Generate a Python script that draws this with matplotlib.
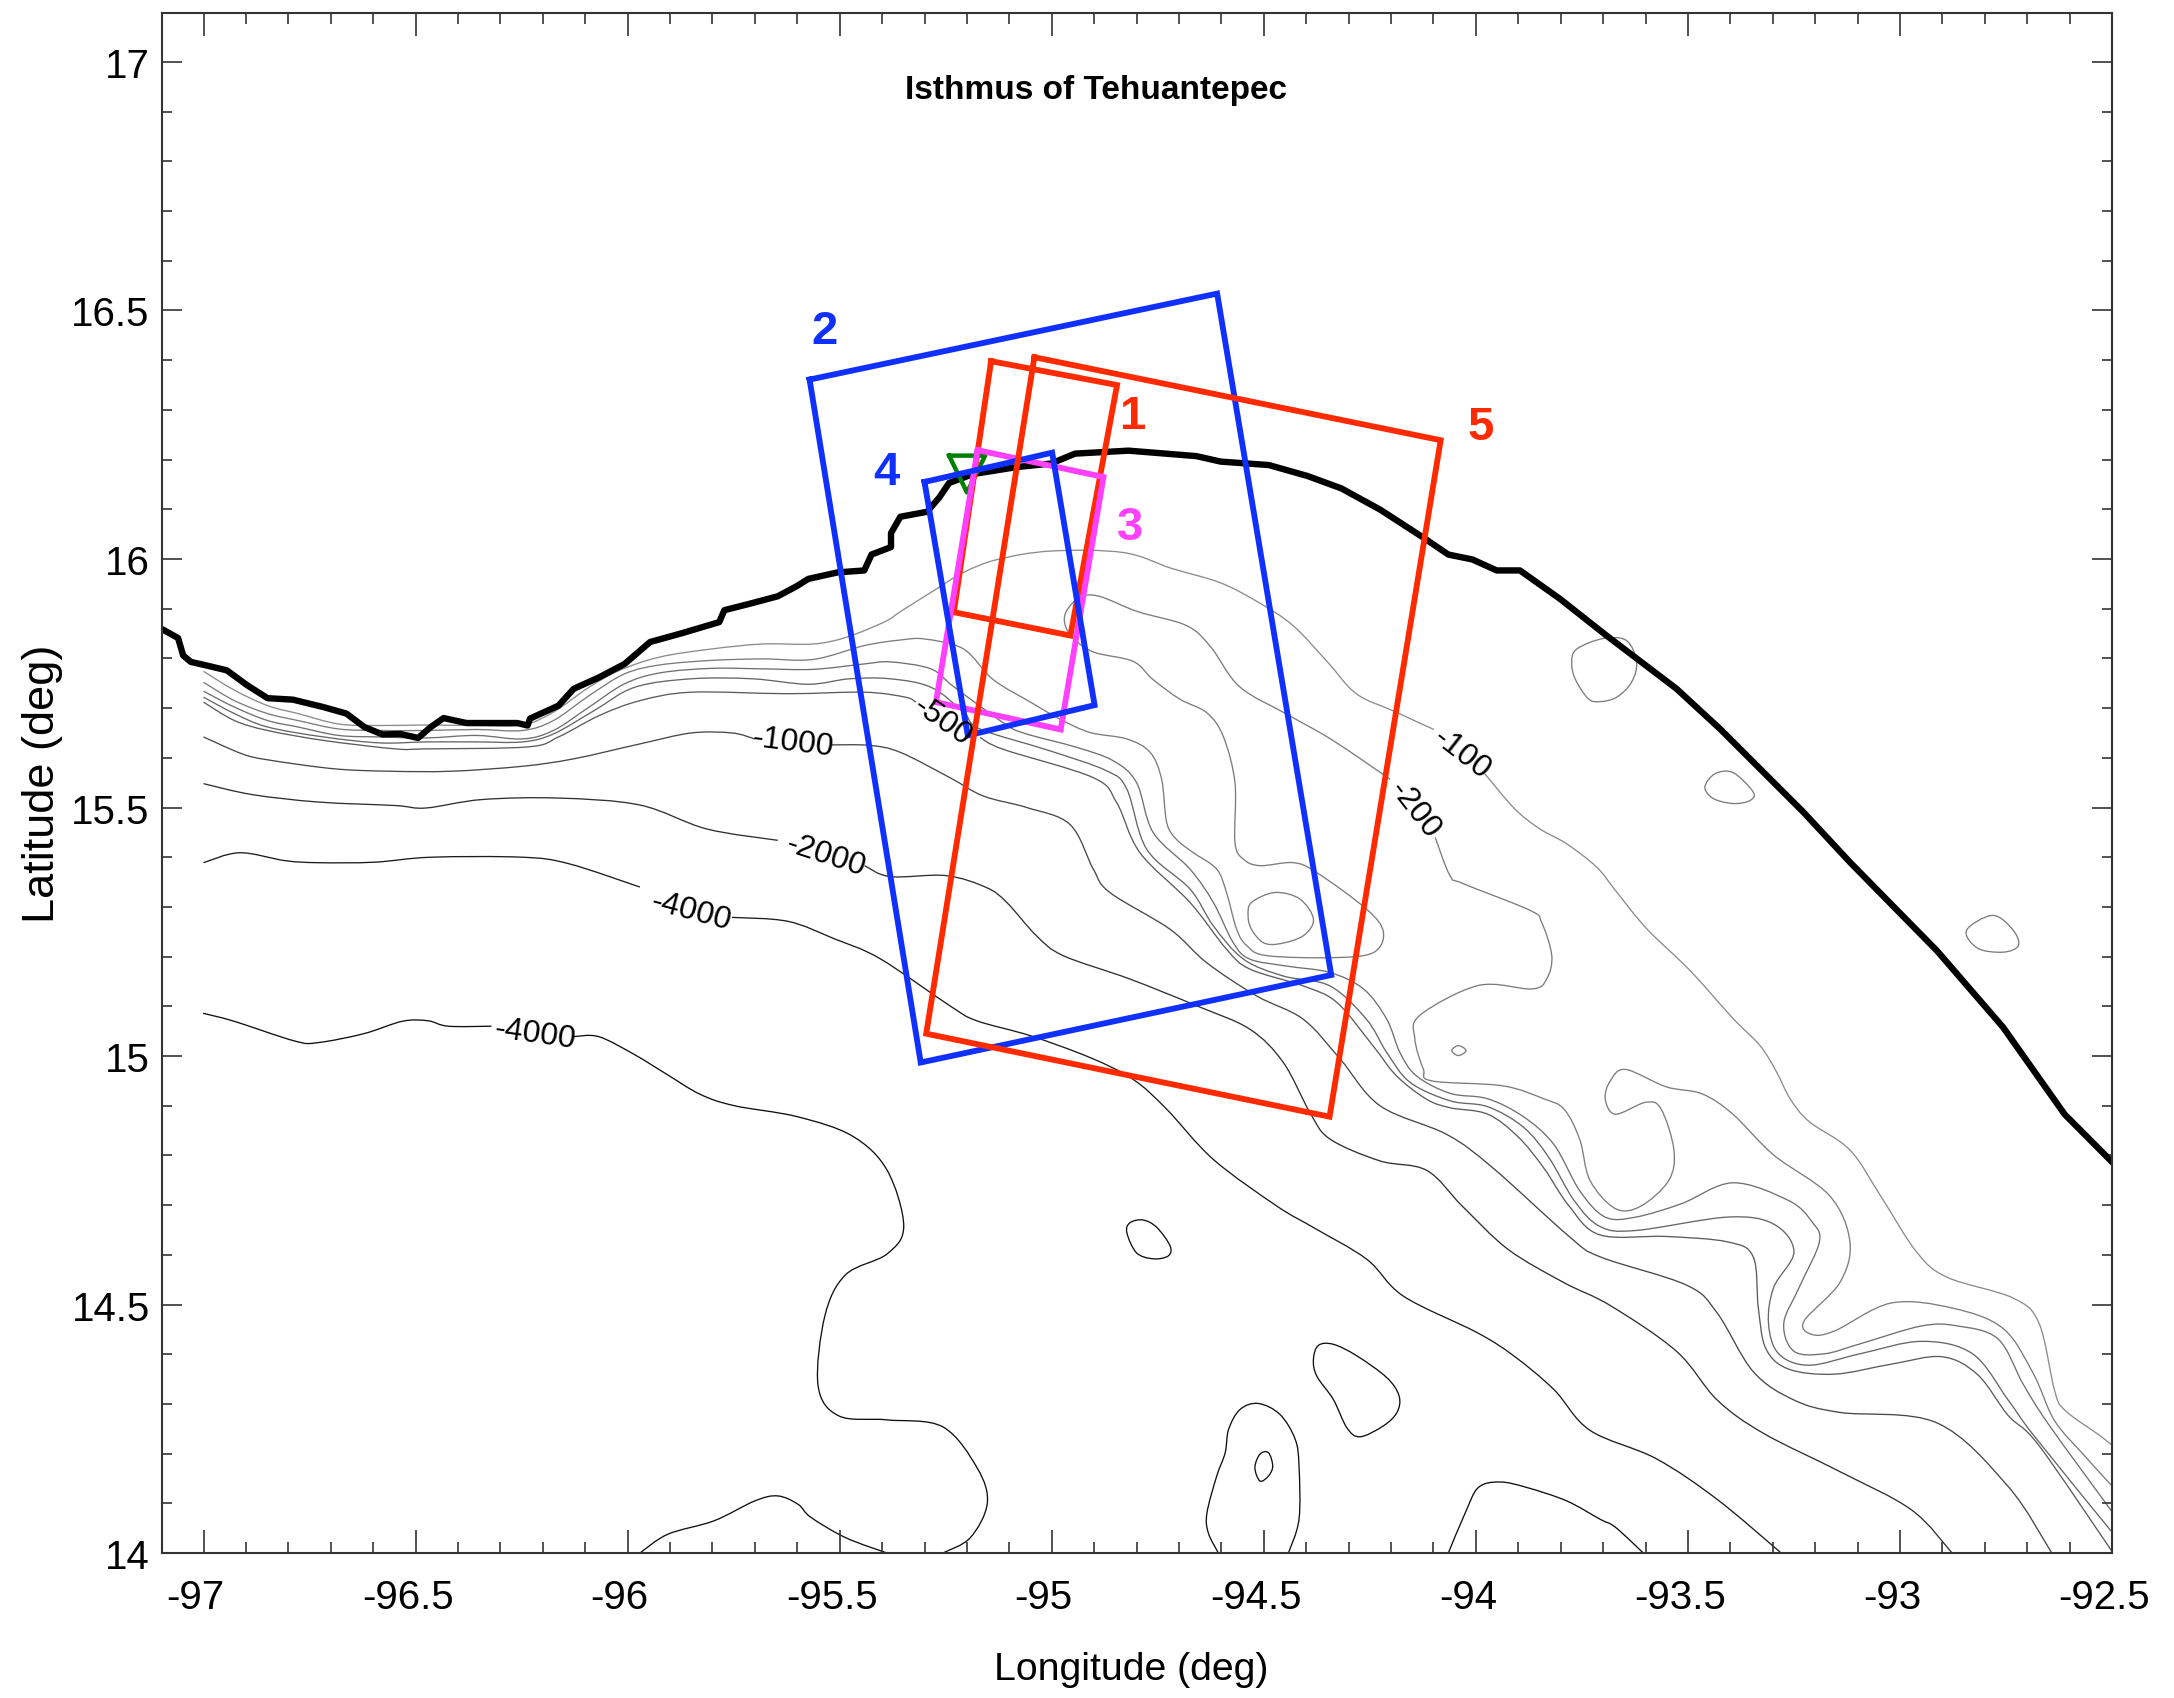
import numpy as np
import matplotlib
matplotlib.use("Agg")
import matplotlib.pyplot as plt
from matplotlib.path import Path
from matplotlib.patches import PathPatch
from matplotlib.transforms import ScaledTranslation

plt.rcParams['font.family'] = ['Liberation Sans', 'DejaVu Sans']

gap = np.nan

# Coastline
coast_lon = [-97.100, -97.060, -97.048, -97.030, -96.994, -96.945, -96.897, -96.849, -96.789, -96.717, -96.663, -96.621,
             -96.578, -96.536, -96.494, -96.464, -96.434, -96.380, -96.260, -96.236, -96.230, -96.163, -96.127, -96.067,
             -96.007, -95.947, -95.875, -95.784, -95.772, -95.712, -95.646, -95.602, -95.574, -95.505, -95.442, -95.425,
             -95.379, -95.379, -95.357, -95.294, -95.265, -95.242, -95.185, -95.082, -95.002, -94.945, -94.819, -94.659,
             -94.602, -94.488, -94.397, -94.317, -94.225, -94.122, -94.065, -94.008, -93.951, -93.896, -93.802, -93.692,
             -93.527, -93.424, -93.228, -93.118, -92.913, -92.757, -92.612, -92.499]
coast_lat = [15.860, 15.841, 15.806, 15.793, 15.786, 15.776, 15.746, 15.720, 15.717, 15.702, 15.689, 15.662,
             15.647, 15.648, 15.640, 15.662, 15.680, 15.670, 15.670, 15.665, 15.679, 15.705, 15.739, 15.762,
             15.789, 15.833, 15.850, 15.873, 15.897, 15.910, 15.925, 15.945, 15.960, 15.973, 15.977, 16.009,
             16.024, 16.052, 16.085, 16.095, 16.124, 16.153, 16.171, 16.185, 16.192, 16.212, 16.218, 16.207,
             16.196, 16.189, 16.167, 16.142, 16.099, 16.042, 16.009, 15.999, 15.977, 15.977, 15.920, 15.846,
             15.739, 15.658, 15.491, 15.390, 15.212, 15.058, 14.883, 14.786]

# Depth contours, gap = break left for a contour label
d100_lon = [-97.000, -96.927, -96.849, -96.777, -96.681, -96.584, -96.476, -96.356, -96.248, -96.175, -96.091, -96.019,
            -95.923, -95.802, -95.682, -95.562, -95.483, -95.393, -95.357, -95.277, -95.208, -95.128, -95.002, -94.831,
            -94.717, -94.602, -94.511, -94.431, -94.351, -94.282, -94.191, -94.099, gap,
            -93.979, -93.908, -93.849, -93.786, -93.715, -93.668, -93.597, -93.495, -93.393, -93.330, -93.291, -93.259,
            -93.214, -93.118, -93.046, -92.961, -92.889, -92.733, -92.672, -92.636, -92.612, -92.528, -92.499]
d100_lat = [15.774, 15.736, 15.705, 15.689, 15.668, 15.665, 15.666, 15.665, 15.666, 15.692, 15.742, 15.776,
            15.803, 15.819, 15.829, 15.829, 15.843, 15.874, 15.894, 15.937, 15.973, 15.999, 16.016, 16.013,
            15.981, 15.952, 15.912, 15.866, 15.794, 15.729, 15.693, 15.657, gap,
            15.568, 15.497, 15.457, 15.427, 15.380, 15.330, 15.256, 15.172, 15.075, 15.021, 14.968, 14.914,
            14.868, 14.811, 14.719, 14.606, 14.555, 14.513, 14.462, 14.329, 14.288, 14.236, 14.216]

d200_lon = [-97.000, -96.927, -96.849, -96.777, -96.681, -96.584, -96.476, -96.356, -96.248, -96.175, -96.091, -96.007,
            -95.923, -95.802, -95.682, -95.562, -95.441, -95.357, -95.299, -95.208, -95.139, -95.048, -94.981, -94.910,
            -94.823, -94.768, -94.741, -94.729, -94.706, -94.666, -94.611, -94.588, -94.564, -94.540, -94.493, -94.336,
            -94.242, -94.218, -94.257, -94.375, -94.430, -94.509, -94.548, -94.568, -94.568, -94.596, -94.635, -94.698,
            -94.762, -94.808, -94.899, -94.945, -94.968, -94.966, -94.934, -94.888, -94.797, -94.682, -94.625, -94.557,
            -94.442, -94.339, -94.202, gap,
            -94.096, -94.061, -94.030, -93.872, -93.845, -93.821, -93.833, -93.868, -93.994, -94.132, -94.144, -94.124,
            -94.104, -93.936, -93.840, -93.792, -93.755, -93.731, -93.671, -93.611, -93.545, -93.533, -93.563, -93.599,
            -93.671, -93.695, -93.683, -93.647, -93.551, -93.467, -93.394, -93.298, -93.166, -93.118, -93.142, -93.226,
            -93.208, -93.154, -93.021, -92.877, -92.757, -92.685, -92.636, -92.564, -92.499]
d200_lat = [15.752, 15.715, 15.689, 15.675, 15.658, 15.655, 15.655, 15.657, 15.655, 15.675, 15.725, 15.769,
            15.787, 15.796, 15.799, 15.798, 15.826, 15.837, 15.839, 15.819, 15.758, 15.711, 15.678, 15.651,
            15.638, 15.611, 15.557, 15.470, 15.436, 15.409, 15.376, 15.329, 15.255, 15.222, 15.202, 15.198,
            15.208, 15.249, 15.295, 15.369, 15.389, 15.383, 15.396, 15.430, 15.550, 15.644, 15.691, 15.718,
            15.758, 15.794, 15.812, 15.837, 15.866, 15.894, 15.923, 15.925, 15.894, 15.866, 15.823, 15.743,
            15.686, 15.636, 15.557, gap,
            15.440, 15.363, 15.347, 15.293, 15.269, 15.202, 15.155, 15.135, 15.142, 15.082, 15.035, 14.974,
            14.950, 14.940, 14.914, 14.893, 14.832, 14.750, 14.693, 14.698, 14.750, 14.811, 14.893, 14.907,
            14.883, 14.914, 14.950, 14.973, 14.938, 14.924, 14.883, 14.801, 14.719, 14.626, 14.544, 14.467,
            14.440, 14.447, 14.503, 14.493, 14.452, 14.360, 14.267, 14.195, 14.134]

d300_lon = [-97.000, -96.927, -96.849, -96.777, -96.681, -96.584, -96.476, -96.356, -96.248, -96.175, -96.091, -96.007,
            -95.923, -95.802, -95.682, -95.562, -95.441, -95.381, -95.285, -95.231, -95.117, -95.067, -94.941, -94.855,
            -94.800, -94.761, -94.674, -94.619, -94.572, -94.533, -94.446, -94.344, -94.265, -94.210, -94.179, -94.140,
            -94.061, -93.972, -93.888, -93.816, -93.755, -93.695, -93.623, -93.515, -93.394, -93.262, -93.208, -93.190,
            -93.238, -93.274, -93.250, -93.178, -93.094, -92.949, -92.865, -92.769, -92.709, -92.648, -92.499]
d300_lat = [15.734, 15.702, 15.675, 15.662, 15.645, 15.642, 15.640, 15.645, 15.638, 15.655, 15.702, 15.749,
            15.771, 15.780, 15.779, 15.778, 15.789, 15.793, 15.779, 15.743, 15.672, 15.650, 15.621, 15.594,
            15.550, 15.450, 15.376, 15.309, 15.228, 15.195, 15.181, 15.168, 15.135, 15.074, 15.007, 14.960,
            14.925, 14.914, 14.878, 14.822, 14.729, 14.676, 14.676, 14.703, 14.745, 14.709, 14.667, 14.626,
            14.534, 14.462, 14.406, 14.401, 14.421, 14.457, 14.457, 14.431, 14.339, 14.257, 14.082]

d400_lon = [-97.000, -96.927, -96.849, -96.717, -96.584, -96.476, -96.356, -96.248, -96.175, -96.079, -95.983, -95.850,
            -95.706, -95.574, -95.477, -95.381, -95.285, -95.208, -95.169, -95.004, -94.871, -94.823, -94.776, -94.674,
            -94.619, -94.548, -94.454, -94.344, -94.258, -94.210, -94.155, -94.061, -93.972, -93.888, -93.828, -93.768,
            -93.707, -93.623, -93.406, -93.298, -93.250, -93.298, -93.310, -93.286, -93.214, -93.094, -92.949, -92.829,
            -92.745, -92.684, -92.499]
d400_lat = [15.722, 15.689, 15.662, 15.642, 15.630, 15.632, 15.632, 15.632, 15.648, 15.695, 15.742, 15.759,
            15.759, 15.748, 15.759, 15.759, 15.742, 15.692, 15.658, 15.614, 15.574, 15.537, 15.416, 15.336,
            15.262, 15.195, 15.161, 15.141, 15.074, 15.007, 14.947, 14.910, 14.898, 14.857, 14.796, 14.709,
            14.657, 14.649, 14.676, 14.662, 14.606, 14.534, 14.462, 14.401, 14.378, 14.401, 14.426, 14.401,
            14.308, 14.236, 14.041]

d500_lon = [-97.000, -96.927, -96.849, -96.717, -96.548, -96.476, -96.235, -96.163, -96.067, -95.971, -95.850, -95.622,
            -95.441, -95.345, -95.321, gap,
            -95.169, -95.114, -94.902, -94.847, -94.792, -94.674, -94.588, -94.533, -94.407, -94.328, -94.242, -94.187,
            -94.116, -94.061, -93.972, -93.900, -93.840, -93.780, -93.707, -93.551, -93.406, -93.346, -93.334, -93.316,
            -93.262, -93.154, -93.021, -92.901, -92.817, -92.745, -92.672, -92.499]
d500_lat = [15.712, 15.675, 15.655, 15.635, 15.618, 15.618, 15.622, 15.642, 15.685, 15.715, 15.732, 15.729,
            15.732, 15.722, 15.712, gap,
            15.641, 15.617, 15.560, 15.510, 15.409, 15.309, 15.215, 15.175, 15.141, 15.108, 15.020, 14.960,
            14.913, 14.896, 14.883, 14.837, 14.775, 14.698, 14.640, 14.637, 14.626, 14.596, 14.493, 14.411,
            14.370, 14.360, 14.380, 14.395, 14.359, 14.277, 14.216, 14.002]

d1000_lon = [-97.000, -96.909, -96.849, -96.693, -96.560, -96.416, -96.248, -96.127, -95.971, -95.850, -95.754, -95.700, gap,
             -95.520, -95.429, -95.357, -95.240, -95.161, -95.059, -94.957, -94.902, -94.863, -94.721, -94.635, -94.517,
             -94.407, -94.320, -94.226, -94.068, -93.960, -93.780, -93.707, -93.503, -93.431, -93.346, -93.250, -93.142,
             -92.913, -92.745, -92.642]
d1000_lat = [15.642, 15.608, 15.596, 15.578, 15.573, 15.573, 15.583, 15.598, 15.628, 15.650, 15.650, 15.638, gap,
             15.626, 15.625, 15.611, 15.560, 15.523, 15.500, 15.466, 15.376, 15.329, 15.255, 15.188, 15.121,
             15.074, 14.994, 14.900, 14.842, 14.775, 14.637, 14.596, 14.539, 14.483, 14.365, 14.308, 14.283,
             14.262, 14.134, 14.000]

d2000_lon = [-97.000, -96.885, -96.729, -96.548, -96.476, -96.344, -96.163, -95.971, -95.814, -95.646, gap,
             -95.441, -95.381, -95.249, -95.154, -95.106, -95.036, -94.973, -94.816, -94.658, -94.533, -94.454, -94.391,
             -94.344, -94.226, -94.116, -94.032, -93.924, -93.792, -93.683, -93.527, -93.431, -93.322, -93.142, -92.973,
             -92.877]
d2000_lat = [15.548, 15.526, 15.511, 15.504, 15.499, 15.516, 15.519, 15.505, 15.457, 15.434, gap,
             15.383, 15.361, 15.363, 15.339, 15.309, 15.242, 15.202, 15.155, 15.101, 15.054, 14.987, 14.886,
             14.833, 14.789, 14.770, 14.698, 14.611, 14.544, 14.498, 14.406, 14.308, 14.241, 14.164, 14.087,
             14.000]

d3000_lon = [-97.000, -96.915, -96.807, -96.729, -96.597, -96.464, -96.248, -96.139, -95.971, gap,
             -95.754, -95.622, -95.513, -95.405, -95.240, -95.177, -95.051, -94.910, -94.808, -94.729, -94.619, -94.469,
             -94.383, -94.257, -94.171, -93.998, -93.911, -93.816, -93.731, -93.575, -93.431, -93.280]
d3000_lat = [15.389, 15.409, 15.393, 15.389, 15.390, 15.400, 15.400, 15.387, 15.340, gap,
             15.279, 15.271, 15.236, 15.196, 15.101, 15.071, 15.041, 14.997, 14.953, 14.893, 14.792, 14.698,
             14.655, 14.591, 14.517, 14.444, 14.397, 14.329, 14.247, 14.190, 14.108, 14.000]

d4000_lon = [-97.001, -96.928, -96.784, -96.730, -96.622, -96.531, -96.471, -96.423, -96.321, gap,
             -96.128, -96.068, -95.984, -95.911, -95.829, -95.748, -95.600, -95.470, -95.388, -95.349, -95.388, -95.486,
             -95.535, -95.551, -95.502, -95.388, -95.257, -95.175, -95.152, -95.192, -95.257]
d4000_lat = [15.086, 15.070, 15.030, 15.027, 15.045, 15.070, 15.071, 15.060, 15.060, gap,
             15.039, 15.039, 15.003, 14.965, 14.923, 14.900, 14.878, 14.839, 14.770, 14.658, 14.602, 14.560,
             14.477, 14.337, 14.276, 14.268, 14.254, 14.170, 14.100, 14.031, 14.000]

# Small closed or open pieces, light ones first
light_loops = [
    ([-94.537, -94.529, -94.474, -94.415, -94.383, -94.407, -94.462, -94.501, -94.529, -94.537],
     [15.282, 15.309, 15.329, 15.316, 15.275, 15.242, 15.226, 15.228, 15.255, 15.282]),
    ([-94.057, -94.041, -94.023, -94.041, -94.057],
     [15.011, 15.021, 15.011, 15.001, 15.011]),
    ([-93.774, -93.762, -93.700, -93.645, -93.621, -93.633, -93.668, -93.707, -93.735, -93.766, -93.774],
     [15.793, 15.819, 15.840, 15.836, 15.793, 15.752, 15.722, 15.713, 15.719, 15.759, 15.793]),
    ([-93.460, -93.436, -93.393, -93.346, -93.354, -93.393, -93.440, -93.460],
     [15.541, 15.568, 15.570, 15.531, 15.514, 15.508, 15.518, 15.541]),
    ([-92.843, -92.781, -92.733, -92.721, -92.757, -92.817, -92.843],
     [15.253, 15.283, 15.253, 15.222, 15.209, 15.217, 15.253]),
]
dark_loops = [
    ([-94.823, -94.815, -94.784, -94.752, -94.721, -94.725, -94.760, -94.800, -94.823],
     [14.645, 14.665, 14.670, 14.655, 14.618, 14.598, 14.592, 14.604, 14.645]),
    ([-94.383, -94.371, -94.336, -94.281, -94.210, -94.181, -94.186, -94.218, -94.273, -94.304, -94.336, -94.375, -94.383],
     [14.390, 14.418, 14.420, 14.397, 14.353, 14.316, 14.283, 14.256, 14.234, 14.252, 14.309, 14.356, 14.390]),
    ([-94.607, -94.631, -94.634, -94.611, -94.591, -94.583, -94.556, -94.513, -94.462, -94.426, -94.417, -94.417, -94.442],
     [14.000, 14.041, 14.081, 14.155, 14.202, 14.249, 14.289, 14.301, 14.279, 14.229, 14.175, 14.068, 14.000]),
    ([-94.521, -94.509, -94.489, -94.479, -94.489, -94.509, -94.521],
     [14.172, 14.199, 14.202, 14.175, 14.155, 14.145, 14.172]),
    ([-94.065, -94.025, -93.994, -93.943, -93.880, -93.786, -93.707, -93.671, -93.605],
     [14.000, 14.081, 14.132, 14.143, 14.132, 14.105, 14.068, 14.052, 14.000]),
    ([-95.971, -95.905, -95.796, -95.700, -95.646, -95.598, -95.568, -95.486, -95.388],
     [14.000, 14.038, 14.065, 14.105, 14.115, 14.098, 14.072, 14.031, 14.000]),
]

# Swath boxes
box1_lon = [-95.143, -94.846, -94.956, -95.231, -95.143]
box1_lat = [16.398, 16.350, 15.846, 15.893, 16.398]
box2_lon = [-95.571, -94.610, -94.341, -95.309, -95.571]
box2_lat = [16.361, 16.534, 15.163, 14.987, 16.361]
box3_lon = [-95.175, -94.878, -94.979, -95.273, -95.175]
box3_lat = [16.219, 16.165, 15.657, 15.712, 16.219]
box4_lon = [-95.300, -94.999, -94.899, -95.198, -95.300]
box4_lat = [16.155, 16.214, 15.706, 15.645, 16.155]
box5_lon = [-95.041, -94.083, -94.345, -95.296, -95.041]
box5_lat = [16.406, 16.239, 14.878, 15.045, 16.406]
tri_lon = [-95.242, -95.157, -95.200, -95.242]
tri_lat = [16.208, 16.208, 16.134, 16.208]

box_names = ['1', '2', '3', '4', '5']
box_name_lon = [-94.809, -95.535, -94.816, -95.391, -93.988]
box_name_lat = [16.288, 16.459, 16.065, 16.175, 16.266]

label_text = ['-100', '-200', '-500', '-1000', '-2000', '-4000', '-4000']
label_lon = [-94.034, -94.144, -95.259, -95.610, -95.532, -95.850, -96.217]
label_lat = [15.608, 15.497, 15.675, 15.632, 15.404, 15.293, 15.045]
label_rot = [-38, -52, -35, -7, -18, -15, -8]

x_ticks = [-97, -96.5, -96, -95.5, -95, -94.5, -94, -93.5, -93, -92.5]
x_tick_labels = ['-97', '-96.5', '-96', '-95.5', '-95', '-94.5', '-94', '-93.5', '-93', '-92.5']
y_ticks = [14, 14.5, 15, 15.5, 16, 16.5, 17]
y_tick_labels = ['14', '14.5', '15', '15.5', '16', '16.5', '17']

BLUE = '#1030ff'
RED = '#ff2a00'
MAGENTA = '#ff40ff'
GREEN = '#008000'


def draw_contour(ax, lon, lat, color, lw=0.95):
    """Draw a contour as a smooth Bezier path through the read points, breaking at gaps."""
    lon = np.asarray(lon, dtype=float)
    lat = np.asarray(lat, dtype=float)
    pts = np.column_stack([lon, lat])
    breaks = np.flatnonzero(np.isnan(lon))
    for part in np.split(pts, breaks):
        part = part[~np.isnan(part[:, 0])]
        n = len(part)
        if n < 2:
            continue
        closed = n > 3 and np.allclose(part[0], part[-1])
        if closed:
            before = part[-2]
            after = part[1]
        else:
            before = part[0]
            after = part[-1]
        padded = np.vstack([before, part, after])
        verts = [part[0]]
        codes = [Path.MOVETO]
        for i in range(1, n):
            c1 = padded[i] + (padded[i + 1] - padded[i - 1]) / 6
            c2 = padded[i + 1] - (padded[i + 2] - padded[i]) / 6
            verts += [c1, c2, padded[i + 1]]
            codes += [Path.CURVE4] * 3
        ax.add_patch(PathPatch(Path(verts, codes), fill=False, edgecolor=color, lw=lw))


fig = plt.figure(figsize=(21.74, 16.99), dpi=100)
ax = fig.add_axes([0.0743, 0.0853, 0.8972, 0.9066])

draw_contour(ax, d100_lon, d100_lat, '#8c8c8c')
draw_contour(ax, d200_lon, d200_lat, '#7c7c7c')
draw_contour(ax, d300_lon, d300_lat, '#707070')
draw_contour(ax, d400_lon, d400_lat, '#666666')
draw_contour(ax, d500_lon, d500_lat, '#5c5c5c')
draw_contour(ax, d1000_lon, d1000_lat, '#484848')
draw_contour(ax, d2000_lon, d2000_lat, '#303030')
draw_contour(ax, d3000_lon, d3000_lat, '#1c1c1c')
draw_contour(ax, d4000_lon, d4000_lat, '#101010')
for lon, lat in light_loops:
    draw_contour(ax, lon, lat, '#7c7c7c')
for lon, lat in dark_loops:
    draw_contour(ax, lon, lat, '#101010')

ax.plot(coast_lon, coast_lat, color='black', lw=4.6, solid_joinstyle='round')

ax.plot(tri_lon, tri_lat, color=GREEN, lw=3.2)
ax.plot(box2_lon, box2_lat, color=BLUE, lw=4.2, solid_joinstyle='miter')
ax.plot(box1_lon, box1_lat, color=RED, lw=4.2, solid_joinstyle='miter')
ax.plot(box3_lon, box3_lat, color=MAGENTA, lw=4.2, solid_joinstyle='miter')
ax.plot(box4_lon, box4_lat, color=BLUE, lw=4.2, solid_joinstyle='miter')
ax.plot(box5_lon, box5_lat, color=RED, lw=4.2, solid_joinstyle='miter')

box_colors = [RED, BLUE, MAGENTA, BLUE, RED]
for name, lon, lat, col in zip(box_names, box_name_lon, box_name_lat, box_colors):
    ax.text(lon, lat, name, color=col, fontsize=34, fontweight='bold', ha='center', va='center')

for txt, lon, lat, rot in zip(label_text, label_lon, label_lat, label_rot):
    ax.text(lon, lat, txt, color='black', fontsize=23, rotation=rot, rotation_mode='anchor',
            ha='center', va='center')

ax.text(0.479, 0.9505, 'Isthmus of Tehuantepec', transform=ax.transAxes, fontsize=24,
        fontweight='bold', ha='center', va='center')

ax.set_xlim(-97.099, -92.5)
ax.set_ylim(14, 17.099)

ax.set_xticks(x_ticks)
ax.set_xticklabels(x_tick_labels)
ax.set_yticks(y_ticks)
ax.set_yticklabels(y_tick_labels)
ax.set_xticks(np.arange(-97, -92.45, 0.1), minor=True)
ax.set_yticks(np.arange(14, 17.05, 0.1), minor=True)
ax.tick_params(which='major', direction='in', top=True, right=True, width=1.2, color='#333333')
ax.tick_params(which='minor', direction='in', top=True, right=True, width=1.2, color='#333333')
ax.tick_params(axis='x', which='major', length=16.5, pad=18, labelsize=29)
ax.tick_params(axis='x', which='minor', length=8)
ax.tick_params(axis='y', which='major', length=14.5, pad=8.5, labelsize=29)
ax.tick_params(axis='y', which='minor', length=7.5)

# x tick labels sit a little left of their ticks in the original
shift = ScaledTranslation(-8 / 100, 0, fig.dpi_scale_trans)
for lab in ax.get_xticklabels():
    lab.set_transform(lab.get_transform() + shift)

for spine in ax.spines.values():
    spine.set_linewidth(1.5)
    spine.set_color('#333333')

ax.set_xlabel('Longitude (deg)', fontsize=28.3, va='center')
ax.xaxis.set_label_coords(0.497, -0.0755)
ax.set_ylabel('Latitude (deg)', fontsize=32.5, va='center')
ax.yaxis.set_label_coords(-0.0612, 0.5)

fig.savefig('out.png', dpi=100, facecolor='white')
